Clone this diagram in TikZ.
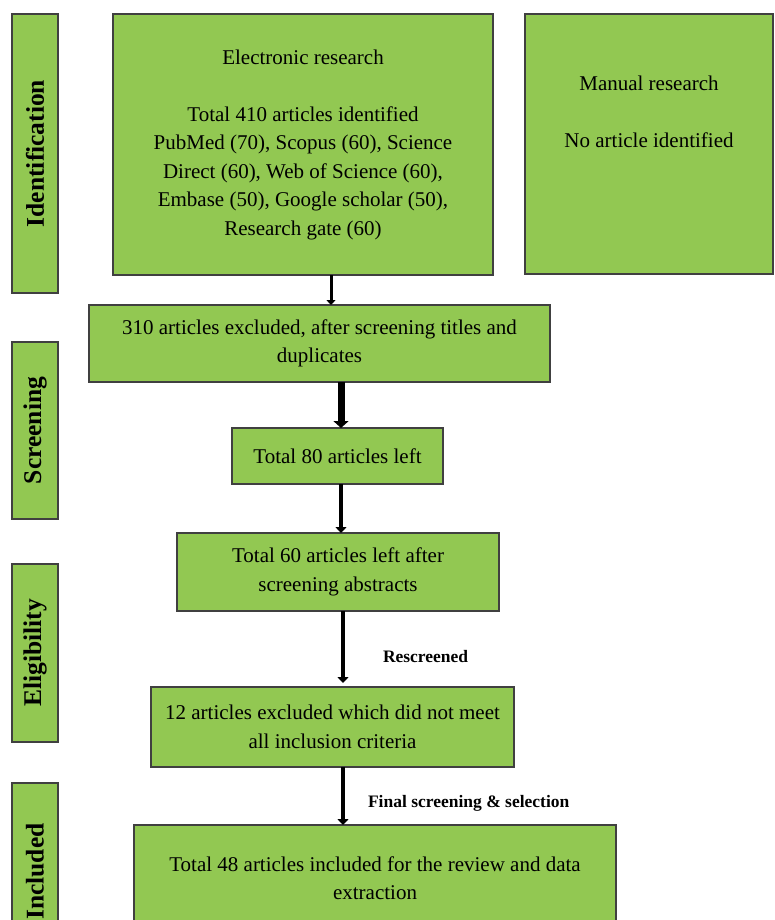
\documentclass[tikz,border=0pt]{standalone}
\usepackage{fontspec}
\setmainfont{Liberation Serif}
\usetikzlibrary{positioning,arrows.meta}
\definecolor{prismagreen}{RGB}{146,200,82}

\begin{document}
\begin{tikzpicture}[x=1pt, y=-1pt
        , every node/.style={ inner sep=0pt, outer sep=0pt }
        , stage/.style={ draw=black!75, line width=1.2pt, fill=prismagreen, align=center
            , font=\fontsize{21}{28.5}\selectfont }
        , phase/.style={ stage, font=\fontsize{25.5}{28}\selectfont\bfseries }
        , flow/.style={ -{Triangle[length=6pt,width=11pt]}, line width=4pt }
        , note/.style={ font=\fontsize{17.5}{21}\selectfont\bfseries }
        ]

    \useasboundingbox (0,0) rectangle (774,920);
    \clip (0,0) rectangle (774,920);

    % phases of the review, on the left
    \foreach \name/\txt/\yc/\len in {ident/Identification/153.5/279, screen/Screening/430.5/177,
            elig/Eligibility/653/178, incl/Included/871.5/177}
        \node[phase, rotate=90, minimum width=\len pt, minimum height=46pt] (\name) at (35,\yc) {\txt};

    % search and screening steps
    \node[stage, minimum width=380pt, minimum height=261pt] (elec) at (303,144.5)
        {Electronic research\\[28.5pt] Total 410 articles identified\\ PubMed (70), Scopus (60), Science\\
         Direct (60), Web of Science (60),\\ Embase (50), Google scholar (50),\\ Research gate (60)};
    \node[stage, minimum width=248pt, minimum height=260pt] (manual) at (649,144)
        {Manual research\\[28.5pt] No article identified\\[28.5pt] \strut};
    \node[stage, minimum width=461pt, minimum height=77pt] (excl310) at (319.5,343.5)
        {310 articles excluded, after screening titles and\\ duplicates};
    \node[stage, minimum width=211pt, minimum height=56pt] (left80) at (337.5,456)
        {Total 80 articles left};
    \node[stage, minimum width=322pt, minimum height=78pt] (left60) at (338,572)
        {Total 60 articles left after\\ screening abstracts};
    \node[stage, minimum width=363pt, minimum height=80pt] (excl12) at (332.5,727)
        {12 articles excluded which did not meet\\ all inclusion criteria};
    \node[stage, minimum width=482pt, minimum height=106pt] (incl48) at (375,878)
        {Total 48 articles included for the review and data\\ extraction};

    % arrows between the steps
    \draw[flow, line width=3pt, -{Triangle[length=5pt,width=9pt]}]
        ([xshift=28pt]elec.south) -- ([xshift=11.5pt]excl310.north);
    \draw[flow, line width=7pt, -{Triangle[length=7pt,width=15pt]}]
        ([xshift=21.5pt]excl310.south) -- ([xshift=3.5pt]left80.north);
    \draw[flow] ([xshift=3.5pt]left80.south) -- ([xshift=3pt]left60.north);
    \draw[flow, shorten >=4pt] ([xshift=5pt]left60.south) -- ([xshift=10.5pt]excl12.north)
        node[note, pos=.6, right=40pt] (rescr) {Rescreened};
    \draw[flow] ([xshift=10.5pt]excl12.south) -- ([xshift=-32pt]incl48.north)
        node[note, pos=.62, right=25pt] (final) {Final screening \& selection};

\end{tikzpicture}
\end{document}
